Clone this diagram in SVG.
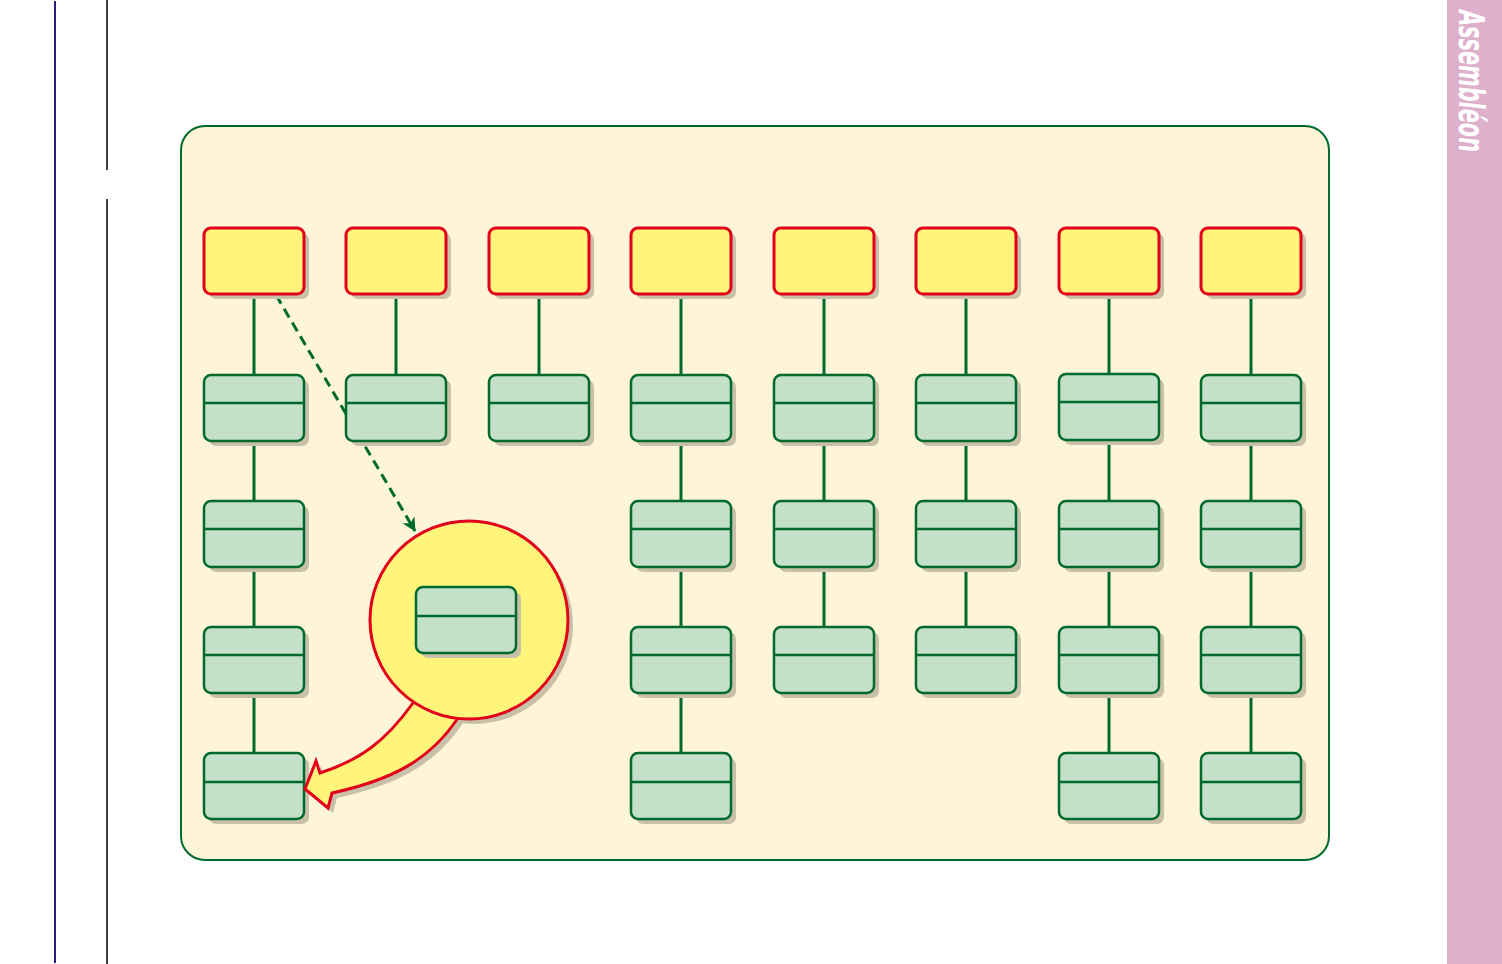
<svg xmlns="http://www.w3.org/2000/svg" xmlns:xlink="http://www.w3.org/1999/xlink" width="1502" height="964" viewBox="0 0 1502 964">
<style>
.sh{fill:#c8c0a8;stroke:none}
.yb{fill:#fff57a;stroke:#e2001a;stroke-width:3}
.gb{fill:#c4e0c8;stroke:#006a2e;stroke-width:2.5}
.dv{stroke:#006a2e;stroke-width:2.5}
.cn{stroke:#006a2e;stroke-width:3;fill:none}
</style>
<defs>
<rect id="yr" width="100" height="66" rx="7"/>
<rect id="gr" width="100" height="66" rx="7"/>
<marker id="ah" markerWidth="14" markerHeight="14" refX="13" refY="7" orient="auto" markerUnits="userSpaceOnUse" viewBox="0 0 14 14">
<path d="M0,0 L14,7 L0,14 L4,7 z" fill="#006a2e"/>
</marker>
</defs>
<rect width="1502" height="964" fill="#ffffff"/>
<line x1="55" y1="1" x2="55" y2="963" stroke="#2e1a78" stroke-width="2"/>
<line x1="107" y1="0" x2="107" y2="170" stroke="#000" stroke-width="1.5"/>
<line x1="107" y1="199" x2="107" y2="964" stroke="#000" stroke-width="1.5"/>
<rect x="1447" y="0" width="55" height="964" fill="#deb0cc"/>
<text transform="translate(1459,10) rotate(90)" font-family="DejaVu Sans, Liberation Sans, sans-serif" font-size="36" font-weight="bold" font-style="italic" fill="#ffffff" textLength="142" lengthAdjust="spacingAndGlyphs">Assembléon</text>
<rect x="181" y="126" width="1148" height="734" rx="24" fill="#fef5d9" stroke="#006a2e" stroke-width="2"/>

<g id="connectors">
<path class="cn" d="M254,294V375M254,441V501M254,567V627M254,693V753"/>
<path class="cn" d="M396,294V375"/>
<path class="cn" d="M539,294V375"/>
<path class="cn" d="M681,294V375M681,441V501M681,567V627M681,693V753"/>
<path class="cn" d="M824,294V375M824,441V501M824,567V627"/>
<path class="cn" d="M966,294V375M966,441V501M966,567V627"/>
<path class="cn" d="M1109,294V375M1109,441V501M1109,567V627M1109,693V753"/>
<path class="cn" d="M1251,294V375M1251,441V501M1251,567V627M1251,693V753"/>
<path d="M276,295 L415,531" stroke="#006a2e" stroke-width="3" stroke-dasharray="10,6" fill="none" marker-end="url(#ah)"/>
</g>

<g id="tops">
<g id="t1"><use href="#yr" x="209" y="233" class="sh"/><use href="#yr" x="204" y="228" class="yb"/></g>
<g id="t2"><use href="#yr" x="351" y="233" class="sh"/><use href="#yr" x="346" y="228" class="yb"/></g>
<g id="t3"><use href="#yr" x="494" y="233" class="sh"/><use href="#yr" x="489" y="228" class="yb"/></g>
<g id="t4"><use href="#yr" x="636" y="233" class="sh"/><use href="#yr" x="631" y="228" class="yb"/></g>
<g id="t5"><use href="#yr" x="779" y="233" class="sh"/><use href="#yr" x="774" y="228" class="yb"/></g>
<g id="t6"><use href="#yr" x="921" y="233" class="sh"/><use href="#yr" x="916" y="228" class="yb"/></g>
<g id="t7"><use href="#yr" x="1064" y="233" class="sh"/><use href="#yr" x="1059" y="228" class="yb"/></g>
<g id="t8"><use href="#yr" x="1206" y="233" class="sh"/><use href="#yr" x="1201" y="228" class="yb"/></g>
</g>

<g id="boxes">
<g id="c1r1"><use href="#gr" x="209" y="380" class="sh"/><use href="#gr" x="204" y="375" class="gb"/><line class="dv" x1="204" y1="403" x2="304" y2="403"/></g>
<g id="c1r2"><use href="#gr" x="209" y="506" class="sh"/><use href="#gr" x="204" y="501" class="gb"/><line class="dv" x1="204" y1="529" x2="304" y2="529"/></g>
<g id="c1r3"><use href="#gr" x="209" y="632" class="sh"/><use href="#gr" x="204" y="627" class="gb"/><line class="dv" x1="204" y1="655" x2="304" y2="655"/></g>
<g id="c1r4"><use href="#gr" x="209" y="758" class="sh"/><use href="#gr" x="204" y="753" class="gb"/><line class="dv" x1="204" y1="782" x2="304" y2="782"/></g>
<g id="c2r1"><use href="#gr" x="351" y="380" class="sh"/><use href="#gr" x="346" y="375" class="gb"/><line class="dv" x1="346" y1="403" x2="446" y2="403"/></g>
<g id="c3r1"><use href="#gr" x="494" y="380" class="sh"/><use href="#gr" x="489" y="375" class="gb"/><line class="dv" x1="489" y1="403" x2="589" y2="403"/></g>
<g id="c4r1"><use href="#gr" x="636" y="380" class="sh"/><use href="#gr" x="631" y="375" class="gb"/><line class="dv" x1="631" y1="403" x2="731" y2="403"/></g>
<g id="c4r2"><use href="#gr" x="636" y="506" class="sh"/><use href="#gr" x="631" y="501" class="gb"/><line class="dv" x1="631" y1="529" x2="731" y2="529"/></g>
<g id="c4r3"><use href="#gr" x="636" y="632" class="sh"/><use href="#gr" x="631" y="627" class="gb"/><line class="dv" x1="631" y1="655" x2="731" y2="655"/></g>
<g id="c4r4"><use href="#gr" x="636" y="758" class="sh"/><use href="#gr" x="631" y="753" class="gb"/><line class="dv" x1="631" y1="782" x2="731" y2="782"/></g>
<g id="c5r1"><use href="#gr" x="779" y="380" class="sh"/><use href="#gr" x="774" y="375" class="gb"/><line class="dv" x1="774" y1="403" x2="874" y2="403"/></g>
<g id="c5r2"><use href="#gr" x="779" y="506" class="sh"/><use href="#gr" x="774" y="501" class="gb"/><line class="dv" x1="774" y1="529" x2="874" y2="529"/></g>
<g id="c5r3"><use href="#gr" x="779" y="632" class="sh"/><use href="#gr" x="774" y="627" class="gb"/><line class="dv" x1="774" y1="655" x2="874" y2="655"/></g>
<g id="c6r1"><use href="#gr" x="921" y="380" class="sh"/><use href="#gr" x="916" y="375" class="gb"/><line class="dv" x1="916" y1="403" x2="1016" y2="403"/></g>
<g id="c6r2"><use href="#gr" x="921" y="506" class="sh"/><use href="#gr" x="916" y="501" class="gb"/><line class="dv" x1="916" y1="529" x2="1016" y2="529"/></g>
<g id="c6r3"><use href="#gr" x="921" y="632" class="sh"/><use href="#gr" x="916" y="627" class="gb"/><line class="dv" x1="916" y1="655" x2="1016" y2="655"/></g>
<g id="c7r1"><use href="#gr" x="1064" y="379" class="sh"/><use href="#gr" x="1059" y="374" class="gb"/><line class="dv" x1="1059" y1="402" x2="1159" y2="402"/></g>
<g id="c7r2"><use href="#gr" x="1064" y="506" class="sh"/><use href="#gr" x="1059" y="501" class="gb"/><line class="dv" x1="1059" y1="529" x2="1159" y2="529"/></g>
<g id="c7r3"><use href="#gr" x="1064" y="632" class="sh"/><use href="#gr" x="1059" y="627" class="gb"/><line class="dv" x1="1059" y1="655" x2="1159" y2="655"/></g>
<g id="c7r4"><use href="#gr" x="1064" y="758" class="sh"/><use href="#gr" x="1059" y="753" class="gb"/><line class="dv" x1="1059" y1="782" x2="1159" y2="782"/></g>
<g id="c8r1"><use href="#gr" x="1206" y="380" class="sh"/><use href="#gr" x="1201" y="375" class="gb"/><line class="dv" x1="1201" y1="403" x2="1301" y2="403"/></g>
<g id="c8r2"><use href="#gr" x="1206" y="506" class="sh"/><use href="#gr" x="1201" y="501" class="gb"/><line class="dv" x1="1201" y1="529" x2="1301" y2="529"/></g>
<g id="c8r3"><use href="#gr" x="1206" y="632" class="sh"/><use href="#gr" x="1201" y="627" class="gb"/><line class="dv" x1="1201" y1="655" x2="1301" y2="655"/></g>
<g id="c8r4"><use href="#gr" x="1206" y="758" class="sh"/><use href="#gr" x="1201" y="753" class="gb"/><line class="dv" x1="1201" y1="782" x2="1301" y2="782"/></g>
</g>

<g id="zoom-callout">
<path class="sh" transform="translate(5,5)" d="M413,703 C385,742 360,760 320,773 L316,761 L305,789 L328,808 L332,793 C392,780 430,760 458,718 Z"/>
<circle class="sh" cx="474" cy="625" r="99"/>
<path class="yb" d="M413,703 C385,742 360,760 320,773 L316,761 L305,789 L328,808 L332,793 C392,780 430,760 458,718" stroke-linejoin="miter"/>
<circle class="yb" cx="469" cy="620" r="99"/>
<g id="zbox"><use href="#gr" x="421" y="592" class="sh"/><use href="#gr" x="416" y="587" class="gb"/><line class="dv" x1="416" y1="616" x2="516" y2="616"/></g>
</g>
</svg>
